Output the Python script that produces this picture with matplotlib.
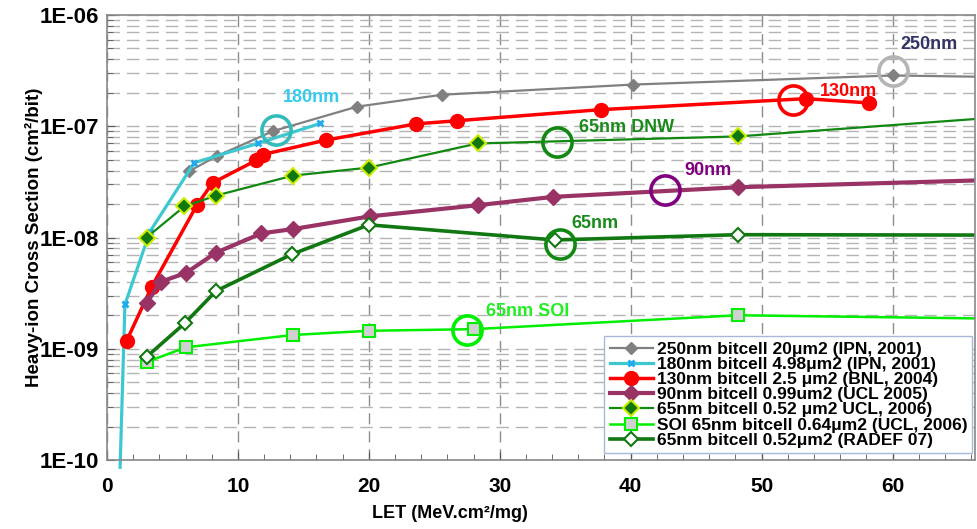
import numpy as np
import matplotlib
matplotlib.use("Agg")
import matplotlib.pyplot as plt
from matplotlib.ticker import MultipleLocator, FuncFormatter, LogLocator, NullFormatter

plt.rcParams['font.family'] = ['Liberation Sans', 'DejaVu Sans']

# LET (MeV.cm2/mg) and cross section (cm2/bit) for each technology
let_250 = [6.3, 8.4, 12.7, 19.1, 25.6, 40.2, 60.0, 70.0]
xs_250 = [3.96e-8, 5.4e-8, 9.06e-8, 1.50e-7, 1.92e-7, 2.37e-7, 2.86e-7, 2.75e-7]

let_180 = [1.0, 1.37, 3.28, 6.67, 11.5, 16.3]
xs_180 = [8.6e-11, 2.5e-9, 1.13e-8, 4.7e-8, 7.0e-8, 1.06e-7]

let_130 = [1.5, 3.41, 6.85, 8.07, 11.4, 11.9, 16.7, 23.6, 26.7, 37.7, 53.4, 58.2]
xs_130 = [1.18e-9, 3.6e-9, 1.94e-8, 3.1e-8, 4.94e-8, 5.57e-8, 7.5e-8, 1.05e-7, 1.12e-7, 1.41e-7, 1.77e-7, 1.62e-7]

let_90 = [3.02, 4.1, 6.03, 8.32, 11.8, 14.2, 20.1, 28.3, 34.1, 48.2, 70.0]
xs_90 = [2.57e-9, 4.0e-9, 4.8e-9, 7.3e-9, 1.09e-8, 1.19e-8, 1.55e-8, 1.95e-8, 2.32e-8, 2.83e-8, 3.35e-8]

let_dnw = [3.02, 5.9, 8.32, 14.2, 20.0, 28.3, 48.2, 70.0]
xs_dnw = [1.0e-8, 1.9e-8, 2.38e-8, 3.6e-8, 4.25e-8, 7.0e-8, 8.1e-8, 1.25e-7]

let_soi = [3.02, 6.03, 14.2, 20.0, 28.0, 48.2, 70.0]
xs_soi = [7.6e-10, 1.03e-9, 1.33e-9, 1.45e-9, 1.5e-9, 2.0e-9, 1.85e-9]

let_65 = [3.02, 5.95, 8.32, 14.1, 20.0, 34.2, 48.2, 70.0]
xs_65 = [8.45e-10, 1.7e-9, 3.3e-9, 7.05e-9, 1.3e-8, 9.5e-9, 1.06e-8, 1.05e-8]

labels = ['250nm bitcell 20μm2 (IPN, 2001)',
          '180nm bitcell 4.98μm2 (IPN, 2001)',
          '130nm bitcell 2.5 μm2 (BNL, 2004)',
          '90nm bitcell 0.99um2 (UCL 2005)',
          '65nm bitcell 0.52 μm2 UCL, 2006)',
          'SOI 65nm bitcell 0.64μm2 (UCL, 2006)',
          '65nm bitcell 0.52μm2 (RADEF 07)']

# highlighted points and their names
ring_x = [12.9, 60.0, 52.4, 34.4, 42.6, 34.6, 27.5]
ring_y = [9.3e-8, 3.17e-7, 1.73e-7, 7.16e-8, 2.66e-8, 8.7e-9, 1.48e-9]
ring_colors = ['#33bbbb', '#b4b4b4', '#ff0000', '#118811', '#800080', '#118811', '#00ee00']
tag_text = ['180nm', '250nm', '130nm', '65nm DNW', '90nm', '65nm', '65nm SOI']
tag_x = [15.6, 62.8, 56.6, 39.7, 45.9, 37.3, 32.1]
tag_y = [1.8e-7, 5.46e-7, 2.06e-7, 9.8e-8, 4.0e-8, 1.35e-8, 2.16e-9]
tag_colors = ['#33ccee', '#333366', '#ff0000', '#1a8a1a', '#800080', '#1a8a1a', '#22ee22']

fig = plt.figure(figsize=(9.77, 5.29), dpi=100)
ax = fig.add_axes([107 / 977, 69 / 529, 868 / 977, 445 / 529])

ax.plot(let_250, xs_250, color='#808080', lw=1.6, marker='D', ms=6,
        mfc='#808080', mec='#808080', label=labels[0])
ax.plot(let_180, xs_180, color='#3cc8d0', lw=2.3, marker='x', ms=5, mew=2,
        mec='#22aaee', markevery=list(range(1, len(let_180))),
        label=labels[1], clip_on=False)
ax.plot(let_130, xs_130, color='#ff0000', lw=2.5, marker='o', ms=10,
        mfc='#ff0000', mec='#ff0000', label=labels[2])
ax.plot(let_90, xs_90, color='#993366', lw=3, marker='D', ms=8,
        mfc='#993366', mec='#993366', label=labels[3])
ax.plot(let_dnw, xs_dnw, color='#118811', lw=1.6, marker='D', ms=8,
        mfc='#117711', mec='#ccee00', mew=1.5, label=labels[4])
ax.plot(let_soi, xs_soi, color='#00ee00', lw=1.8, marker='s', ms=9,
        mfc='#d0d0d0', mec='#00ee00', mew=1.5, label=labels[5])
ax.plot(let_65, xs_65, color='#117711', lw=2.6, marker='D', ms=7,
        mfc='white', mec='#117711', mew=1.5, label=labels[6])

for x, y, c in zip(ring_x, ring_y, ring_colors):
    ax.plot(x, y, 'o', ms=21, mfc='none', mec=c, mew=2.6, zorder=5)
for t, x, y, c in zip(tag_text, tag_x, tag_y, tag_colors):
    ax.text(x, y, t, color=c, fontsize=13, fontweight='bold', ha='center', va='center')

ax.set_yscale('log')
ax.set_xlim(0, 66.3)
ax.set_ylim(1e-10, 1e-6)

ax.xaxis.set_major_locator(MultipleLocator(10))
ax.xaxis.set_minor_locator(MultipleLocator(2))
ax.yaxis.set_major_locator(LogLocator(base=10, numticks=10))
ax.yaxis.set_minor_locator(LogLocator(base=10, subs=np.arange(2, 10), numticks=20))
ax.yaxis.set_major_formatter(FuncFormatter(lambda v, p: '1E-%02d' % round(-np.log10(v))))
ax.yaxis.set_minor_formatter(NullFormatter())

ax.tick_params(which='both', direction='in', colors='#555555', labelcolor='black')
ax.tick_params(which='major', length=6)
ax.tick_params(which='minor', length=4)
ax.tick_params(axis='y', labelsize=16, pad=6)
ax.tick_params(axis='x', labelsize=15, pad=12)
for lab in ax.get_xticklabels() + ax.get_yticklabels():
    lab.set_fontweight('bold')

ax.yaxis.grid(True, which='both', color='#b4b4b4', lw=1, linestyle=(0, (9, 5)))
ax.xaxis.grid(True, which='major', color='#8c8c8c', lw=1, linestyle=(0, (8, 5)))
ax.set_axisbelow(True)

for s in ax.spines.values():
    s.set_color('#888888')
    s.set_linewidth(1.2)

ax.set_ylabel('Heavy-ion Cross Section (cm²/bit)', fontsize=13.5, fontweight='bold')
ax.yaxis.set_label_coords(-0.074, 0.5)
ax.set_xlabel('LET (MeV.cm²/mg)', fontsize=13, fontweight='bold')
ax.xaxis.set_label_coords(0.395, -0.1)

leg = ax.legend(loc='lower right', bbox_to_anchor=(1.0, 0.01),
                prop={'weight': 'bold', 'size': 12.5}, frameon=True, fancybox=False,
                edgecolor='#a8b8d8', framealpha=1, labelspacing=0.0,
                handlelength=2.5, handletextpad=0.2, borderpad=0.3, borderaxespad=0.15)
leg.get_frame().set_linewidth(1)

fig.savefig('out.png', dpi=100)
